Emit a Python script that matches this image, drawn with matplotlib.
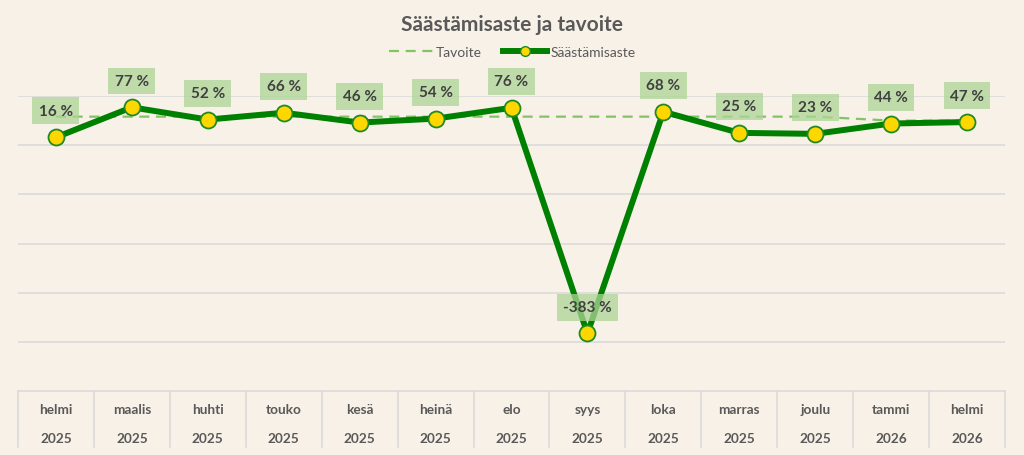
import matplotlib
matplotlib.use("Agg")
import matplotlib.pyplot as plt
from matplotlib.lines import Line2D
import matplotlib.transforms as mtransforms

months = ["helmi", "maalis", "huhti", "touko", "kesä", "heinä", "elo",
          "syys", "loka", "marras", "joulu", "tammi", "helmi"]
years = ["2025", "2025", "2025", "2025", "2025", "2025", "2025",
         "2025", "2025", "2025", "2025", "2026", "2026"]
saving_rate = [16, 77, 52, 66, 46, 54, 76, -383, 68, 25, 23, 44, 47]
target = [58, 58, 58, 58, 58, 58, 58, 58, 58, 58, 58, 50, 50]

BG = "#F8F1E7"
TXT = "#595959"
plt.rcParams['font.family'] = ['Lato', 'DejaVu Sans']

fig = plt.figure(figsize=(10.24, 4.56), dpi=100, facecolor=BG)
ax = fig.add_axes([18/1024, 1-392/456, (1005-18)/1024, (392-97)/456])
ax.set_facecolor(BG)
n = len(months)
x = list(range(n))
ax.set_xlim(-0.5, n-0.5)
ax.set_ylim(-500, 100)
for s in ax.spines.values():
    s.set_visible(False)
ax.set_xticks([])
ax.set_yticks([])

for g in [-400, -300, -200, -100, 0, 100]:
    ax.axhline(g, color="#D9D9D9", lw=1.1, zorder=0)
ax.axhline(-500, color="#D9D9D9", lw=1.1, zorder=0, clip_on=False)

ax.plot(x, target, color="#82C366", lw=1.6, dashes=(4.5, 3), zorder=2)
ax.plot(x, saving_rate, color="#008000", lw=4.3, zorder=3,
        marker="o", markersize=11.5, markerfacecolor="#FFD700",
        markeredgecolor="#1F8A1F", markeredgewidth=1.3, solid_capstyle="round")

for xi, v in zip(x, saving_rate):
    ax.annotate(f"{v} %", (xi, v), xytext=(0, 19), textcoords="offset points",
                ha="center", va="center", fontsize=11, fontweight="bold",
                color="#404040", zorder=5,
                bbox=dict(boxstyle="square,pad=0.42", fc="#ADD495", ec="none", alpha=0.75))

# category table
trans = mtransforms.blended_transform_factory(ax.transData, ax.transAxes)
ybot = -(448-392)/295
for b in range(n+1):
    ax.plot([b-0.5, b-0.5], [0, ybot], transform=trans, color="#D9D9D9",
            lw=1.1, clip_on=False)
for xi, m, yv in zip(x, months, years):
    ax.text(xi, -(410-392)/295, m, transform=trans, ha="center", va="center",
            fontsize=9.8, fontweight="bold", color=TXT)
    ax.text(xi, -(439-392)/295, yv, transform=trans, ha="center", va="center",
            fontsize=9.8, fontweight="bold", color=TXT)

fig.text(0.5, 1-25/456, "Säästämisaste ja tavoite", ha="center", va="center",
         fontsize=15, fontweight="bold", color=TXT)

handles = [Line2D([], [], color="#82C366", lw=1.6, dashes=(4.5, 3)),
           Line2D([], [], color="#008000", lw=4.3, marker="o", markersize=7,
                  markerfacecolor="#FFD700", markeredgecolor="#1F8A1F")]
leg = fig.legend(handles, ["Tavoite", "Säästämisaste"], loc="center",
                 bbox_to_anchor=(0.5, 1-53/456), ncol=2, frameon=False,
                 fontsize=10, handlelength=3.2, handletextpad=0.2, columnspacing=1.5)
for t in leg.get_texts():
    t.set_color(TXT)

fig.savefig("out.png", dpi=100, facecolor=BG)
